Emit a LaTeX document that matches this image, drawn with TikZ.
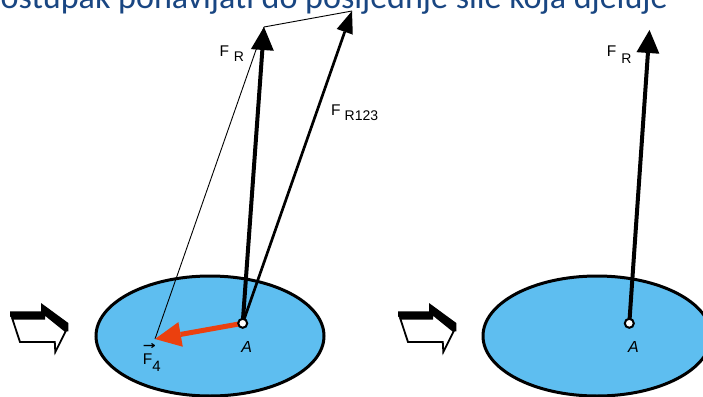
\documentclass[tikz,border=0pt]{standalone}
\usepackage{fontspec}
\setmainfont{Liberation Sans}
\newfontfamily\titlefont{Carlito}
\newfontfamily\dejavu{DejaVu Sans}
\usetikzlibrary{arrows.meta,shapes.geometric}
\definecolor{diskblue}{RGB}{94,190,240}
\definecolor{forcered}{RGB}{235,64,14}
\definecolor{titleblue}{RGB}{25,70,130}
\begin{document}
\begin{tikzpicture}[x=1pt,y=-1pt,
  disk/.style={ellipse, draw=black, line width=3pt, fill=diskblue, minimum width=228pt, minimum height=120pt, inner sep=0pt},
  thinline/.style={line width=0.9pt, draw=black},
  bigforce/.style={line width=4pt, draw=black, -{Triangle[length=23pt,width=23pt,line width=0pt]}},
  midforce/.style={line width=2.7pt, draw=black, -{Triangle[length=22pt,width=17pt,line width=0pt]}},
  redforce/.style={line width=5pt, draw=forcered, -{Triangle[length=26pt,width=25pt,line width=0pt]}},
  pivot/.style={circle, draw=black, line width=2pt, fill=white, minimum size=9pt, inner sep=0pt},
  lbl/.style={anchor=base west, inner sep=0pt, font=\fontsize{15.5}{15.5}\selectfont},
  hollowback/.style={fill=black},
  hollowface/.style={draw=black, fill=white, line width=1.8pt, line join=miter}
]
\clip (0,0) rectangle (703,396);
\fill[white] (0,0) rectangle (703,396);

% title (cut off at the top)
\node[anchor=base west, inner sep=0pt, text=titleblue] (title) at (0.5,8.5)
  {\resizebox{667pt}{!}{\titlefont ostupak ponavljati do posljednje sile koja djeluje}};

% hollow arrows
\foreach \dx in {0,388}{
  \begin{scope}[xshift=\dx pt]
  \fill[hollowback] (10,311.3) -- (41,311.3) -- (41,303) -- (68.3,323) -- (68.3,331.3) -- (65.7,331.3) -- (44.3,314) -- (44.3,318.7) -- (12.3,318.7) -- (10,316.3) -- cycle;
  \draw[hollowface] (12.3,318.7) -- (44.3,318.7) -- (44.3,314) -- (65.7,331.3) -- (55.3,352) -- (54.8,342) -- (20,342) -- cycle;
  \end{scope}
}

% disks
\node[disk] (diskL) at (210,336) {};
\node[disk] (diskR) at (597,336) {};

% points
\coordinate (AL) at (242.7,323.3);
\coordinate (AR) at (629.3,323.3);
\coordinate (tipFR) at (264,27);
\coordinate (tipF123) at (352,11);
\coordinate (tipF4) at (155,339);
\coordinate (tipFRR) at (649.5,30);

% parallelogram construction lines
\draw[thinline] (tipF4) -- (tipFR);
\draw[thinline] (tipFR) -- (tipF123);

% forces
\draw[midforce] (AL) -- (tipF123);
\draw[bigforce] (AL) -- (tipFR);
\draw[redforce] (AL) -- (tipF4);
\draw[bigforce] (AR) -- (tipFRR);

\node[pivot] (pL) at (AL) {};
\node[pivot] (pR) at (AR) {};

% labels
\node[lbl] (lFR) at (219.3,56.7) {F\hspace{5pt}\raisebox{-5pt}{\fontsize{14}{14}\selectfont R}};
\node[lbl] (lF123) at (331,115) {F\hspace{4pt}\raisebox{-5pt}{\fontsize{14}{14}\selectfont R123}};
\node[lbl] (lFRR) at (606.7,56.7) {F\hspace{5pt}\raisebox{-6.5pt}{\fontsize{14}{14}\selectfont R}};
\node[lbl] (lF4) at (142.7,364.3) {\makebox[0pt][l]{\raisebox{14.5pt}{\resizebox{13pt}{6pt}{\dejavu\bfseries →}}}F\raisebox{-7.4pt}{\fontsize{15}{15}\selectfont 4}};
\node[lbl, font=\fontsize{16}{16}\selectfont\itshape] (lAL) at (241.2,352.7) {A};
\node[lbl, font=\fontsize{16}{16}\selectfont\itshape] (lAR) at (627.8,352.7) {A};
\end{tikzpicture}
\end{document}
